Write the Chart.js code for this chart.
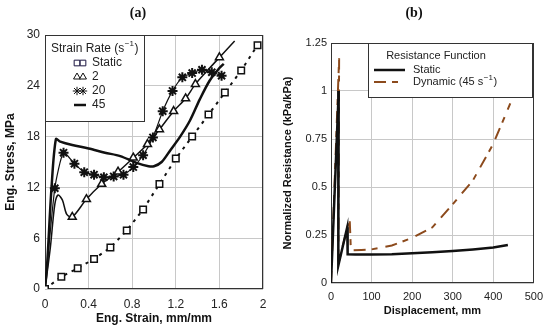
<!DOCTYPE html>
<html>
<head>
<meta charset="utf-8">
<script src="https://cdn.jsdelivr.net/npm/chart.js@4/dist/chart.umd.min.js"></script>
<style>
    body { margin: 0; background: #fff; }
    #wrap { position: relative; width: 550px; height: 329px; }
    canvas { position: absolute; top: 0; }
    .ttl { position: absolute; top: 5px; width: 40px; text-align: center; font: bold 14px "Liberation Serif", serif; color: #111; }
</style>
</head>
<body>
<div id="wrap">
    <canvas id="chartA" width="275" height="329" style="left:0"></canvas>
    <canvas id="chartB" width="275" height="329" style="left:275px"></canvas>
    <div class="ttl" style="left:118px">(a)</div>
    <div class="ttl" style="left:394px">(b)</div>
</div>
<script>
// (a) stress-strain curves
const strainTicks = [0, 0.4, 0.8, 1.2, 1.6, 2];
const stressTicks = [0, 6, 12, 18, 24, 30];

const staticStrain = [0, 0.15, 0.3, 0.45, 0.6, 0.75, 0.9, 1.05, 1.2, 1.35, 1.5, 1.65, 1.8, 1.95];
const staticStress = [0, 1.45, 2.45, 3.55, 4.9, 6.9, 9.4, 12.4, 15.4, 18.0, 20.6, 23.2, 25.8, 28.8];

const rate2Strain = [0, 0.05, 0.09, 0.12, 0.16, 0.2, 0.25, 0.38, 0.52, 0.67, 0.81, 0.94, 1.05, 1.18, 1.29, 1.38, 1.49, 1.6, 1.74];
const rate2Stress = [0, 5, 10, 11.1, 10.5, 8.8, 8.5, 10.6, 12.4, 13.85, 15.5, 17.1, 18.85, 21.0, 22.5, 24.2, 25.8, 27.35, 29.3];

const rate20Strain = [0, 0.09, 0.17, 0.27, 0.36, 0.45, 0.54, 0.63, 0.72, 0.81, 0.9, 0.99, 1.08, 1.17, 1.26, 1.35, 1.44, 1.53, 1.62];
const rate20Stress = [0, 11.9, 16.1, 14.8, 13.8, 13.5, 13.2, 13.3, 13.5, 14.4, 15.8, 17.9, 21.0, 23.4, 25.0, 25.5, 25.9, 25.6, 25.2];

const rate45Strain = [0, 0.02, 0.06, 0.1, 0.14, 0.25, 0.4, 0.55, 0.69, 0.84, 0.95, 1.0, 1.07, 1.15, 1.24, 1.33, 1.42, 1.51, 1.6, 1.64];
const rate45Stress = [0, 3, 12, 17.7, 17.4, 17.0, 16.6, 16.1, 15.7, 14.9, 14.5, 14.5, 15.0, 16.4, 18.0, 19.9, 22.4, 24.6, 26.1, 26.6];

// (b) resistance functions
const dispTicks = [0, 100, 200, 300, 400, 500];
const resTicks = [0, 0.25, 0.5, 0.75, 1, 1.25];

const staticDisp = [0, 19, 18, 40, 41, 60, 100, 150, 200, 250, 300, 350, 400, 436];
const staticRes = [0, 1.0, 0.09, 0.29, 0.15, 0.148, 0.148, 0.15, 0.155, 0.16, 0.167, 0.175, 0.185, 0.198];

const dynDisp = [0, 20, 18, 46, 49, 75, 100, 150, 200, 250, 300, 350, 400, 442];
const dynRes = [0, 1.17, 0.1, 0.337, 0.17, 0.172, 0.175, 0.195, 0.235, 0.29, 0.41, 0.535, 0.725, 0.935];

const FONT = '"Liberation Sans", Arial, sans-serif';
const brown = '#8c4a1c';
const pts = (xs, ys) => xs.map((x, i) => ({ x: x, y: ys[i] }));

const frame = {
    id: 'frame',
    beforeDatasetsDraw(chart) {
        const a = chart.chartArea;
        const ctx = chart.ctx;
        ctx.save();
        ctx.strokeStyle = '#333';
        ctx.lineWidth = 1;
        ctx.strokeRect(Math.round(a.left) + 0.5, Math.round(a.top) + 0.5, Math.round(a.width) - 1, Math.round(a.height) - 1);
        ctx.restore();
    }
};

function supText(ctx, parts, x, y, size) {
    // parts: [text, superscript, text]
    ctx.font = size + 'px ' + FONT;
    ctx.fillText(parts[0], x, y);
    x += ctx.measureText(parts[0]).width;
    ctx.font = Math.round(size * 0.7) + 'px ' + FONT;
    ctx.fillText(parts[1], x + 0.5, y - size * 0.4);
    x += ctx.measureText(parts[1]).width + 1;
    ctx.font = size + 'px ' + FONT;
    ctx.fillText(parts[2], x, y);
}

const legendA = {
    id: 'legendA',
    afterDraw(chart) {
        const ctx = chart.ctx;
        const a = chart.chartArea;
        const L = Math.round(a.left), T = Math.round(a.top);
        ctx.save();
        ctx.fillStyle = '#fff';
        ctx.fillRect(L, T, 99, 86);
        ctx.strokeStyle = '#333';
        ctx.lineWidth = 1;
        ctx.strokeRect(L + 0.5, T + 0.5, 99, 86);
        ctx.fillStyle = '#222';
        ctx.textBaseline = 'middle';
        supText(ctx, ['Strain Rate (s', '\u22121', ')'], L + 6, T + 14, 12);
        const rows = [
            { text: 'Static', style: 'rect', r: 4, w: 2, color: '#1a1440' },
            { text: '2', style: 'triangle', r: 4, w: 1.8, color: '#111' },
            { text: '20', style: 'star', r: 4.2, w: 2.2, color: '#111' },
            { text: '45', style: null, color: '#111' }
        ];
        rows.forEach((row, i) => {
            const y = T + 28 + i * 14;
            ctx.strokeStyle = row.color;
            ctx.fillStyle = '#fff';
            if (row.style) {
                [L + 32, L + 38].forEach(cx => {
                    Chart.helpers.drawPoint(ctx, { pointStyle: row.style, radius: row.r, rotation: 0, borderWidth: row.w }, cx, y);
                });
            } else {
                ctx.lineWidth = 2.5;
                ctx.beginPath();
                ctx.moveTo(L + 29, y);
                ctx.lineTo(L + 41, y);
                ctx.stroke();
            }
            ctx.fillStyle = '#222';
            ctx.font = '12px ' + FONT;
            ctx.fillText(row.text, L + 47, y);
        });
        ctx.restore();
    }
};

const legendB = {
    id: 'legendB',
    afterDraw(chart) {
        const ctx = chart.ctx;
        const a = chart.chartArea;
        const L = Math.round(a.left) + 37, T = Math.round(a.top);
        ctx.save();
        ctx.fillStyle = '#fff';
        ctx.fillRect(L, T, 164, 54);
        ctx.strokeStyle = '#333';
        ctx.lineWidth = 1;
        ctx.strokeRect(L + 0.5, T + 0.5, 164, 54);
        ctx.fillStyle = '#222';
        ctx.textBaseline = 'middle';
        ctx.textAlign = 'center';
        ctx.font = '11px ' + FONT;
        ctx.fillText('Resistance Function', L + 68, T + 13);
        ctx.textAlign = 'left';
        ctx.fillText('Static', L + 45, T + 27);
        supText(ctx, ['Dynamic (45 s', '\u22121', ')'], L + 45, T + 39, 11);
        ctx.lineWidth = 2.5;
        ctx.strokeStyle = '#111';
        ctx.beginPath();
        ctx.moveTo(L + 6, T + 27);
        ctx.lineTo(L + 37, T + 27);
        ctx.stroke();
        ctx.lineWidth = 2;
        ctx.strokeStyle = brown;
        ctx.setLineDash([12, 6, 6, 8]);
        ctx.beginPath();
        ctx.moveTo(L + 6, T + 39);
        ctx.lineTo(L + 37, T + 39);
        ctx.stroke();
        ctx.restore();
    }
};

function axis(ticksArr, min, max, opts) {
    return {
        type: 'linear',
        min: min,
        max: max,
        afterBuildTicks: s => { s.ticks = ticksArr.map(v => ({ value: v })); },
        afterFit: opts.fit,
        grid: { color: '#c8c8c8', drawTicks: false },
        border: { display: false },
        ticks: {
            padding: opts.pad,
            color: '#222',
            font: { family: FONT, size: opts.size },
            callback: v => String(v),
            maxRotation: 0
        },
        title: {
            display: true,
            text: opts.title,
            color: '#111',
            font: { family: FONT, size: opts.size, weight: 'bold' },
            padding: opts.titlePad
        }
    };
}

new Chart(document.getElementById('chartA'), {
    type: 'scatter',
    data: {
        datasets: [
            {
                label: 'Static',
                data: pts(staticStrain, staticStress),
                showLine: true,
                borderColor: '#111',
                borderWidth: 2,
                borderDash: [3, 5],
                pointStyle: 'rect',
                pointRadius: 4.6,
                pointBorderWidth: 1.5,
                pointBackgroundColor: '#fff',
                pointBorderColor: '#111'
            },
            {
                label: '2',
                data: pts(rate2Strain, rate2Stress),
                showLine: true,
                borderColor: '#111',
                borderWidth: 1.5,
                tension: 0.3,
                pointStyle: 'triangle',
                pointRadius: ctx => (ctx.dataIndex >= 6 && ctx.dataIndex !== 16 && ctx.dataIndex !== 18) ? 4.6 : 0,
                pointBorderWidth: 1.5,
                pointBackgroundColor: '#fff',
                pointBorderColor: '#111'
            },
            {
                label: '20',
                data: pts(rate20Strain, rate20Stress),
                showLine: true,
                borderColor: '#111',
                borderWidth: 1.2,
                tension: 0.2,
                pointStyle: 'star',
                pointRadius: ctx => ctx.dataIndex === 0 ? 0 : 5,
                pointBorderWidth: 2,
                pointBorderColor: '#111'
            },
            {
                label: '45',
                data: pts(rate45Strain, rate45Stress),
                showLine: true,
                borderColor: '#111',
                borderWidth: 2.5,
                tension: 0.3,
                pointRadius: 0
            }
        ]
    },
    options: {
        responsive: false,
        animation: false,
        layout: { padding: { top: 35, right: 12, left: 0, bottom: 0 } },
        scales: {
            x: axis(strainTicks, 0, 2, { fit: s => { s.height = 40; }, pad: 8, size: 12, title: 'Eng. Strain, mm/mm', titlePad: { top: 0, bottom: 3 } }),
            y: axis(stressTicks, 0, 30, { fit: s => { s.width = 45; }, pad: 5, size: 12, title: 'Eng. Stress, MPa', titlePad: { top: 3, bottom: 0 } })
        },
        plugins: { legend: { display: false }, tooltip: { enabled: false } }
    },
    plugins: [frame, legendA]
});

new Chart(document.getElementById('chartB'), {
    type: 'scatter',
    data: {
        datasets: [
            {
                label: 'Static',
                data: pts(staticDisp, staticRes),
                showLine: true,
                borderColor: '#111',
                borderWidth: 2.5,
                pointRadius: 0
            },
            {
                label: 'Dynamic (45 s\u207B\u00B9)',
                data: pts(dynDisp, dynRes),
                showLine: true,
                borderColor: brown,
                borderWidth: 2,
                borderDash: [12, 6, 6, 8],
                pointRadius: 0
            }
        ]
    },
    options: {
        responsive: false,
        animation: false,
        layout: { padding: { top: 43, right: 14, left: 0, bottom: 0 } },
        scales: {
            x: axis(dispTicks, 0, 500, { fit: s => { s.height = 46; }, pad: 7, size: 11, title: 'Displacement, mm', titlePad: { top: 0, bottom: 11 } }),
            y: axis(resTicks, 0, 1.25, { fit: s => { s.width = 56; }, pad: 4, size: 11, title: 'Normalized Resistance (kPa/kPa)', titlePad: { top: 6, bottom: 0 } })
        },
        plugins: { legend: { display: false }, tooltip: { enabled: false } }
    },
    plugins: [frame, legendB]
});
</script>
</body>
</html>
